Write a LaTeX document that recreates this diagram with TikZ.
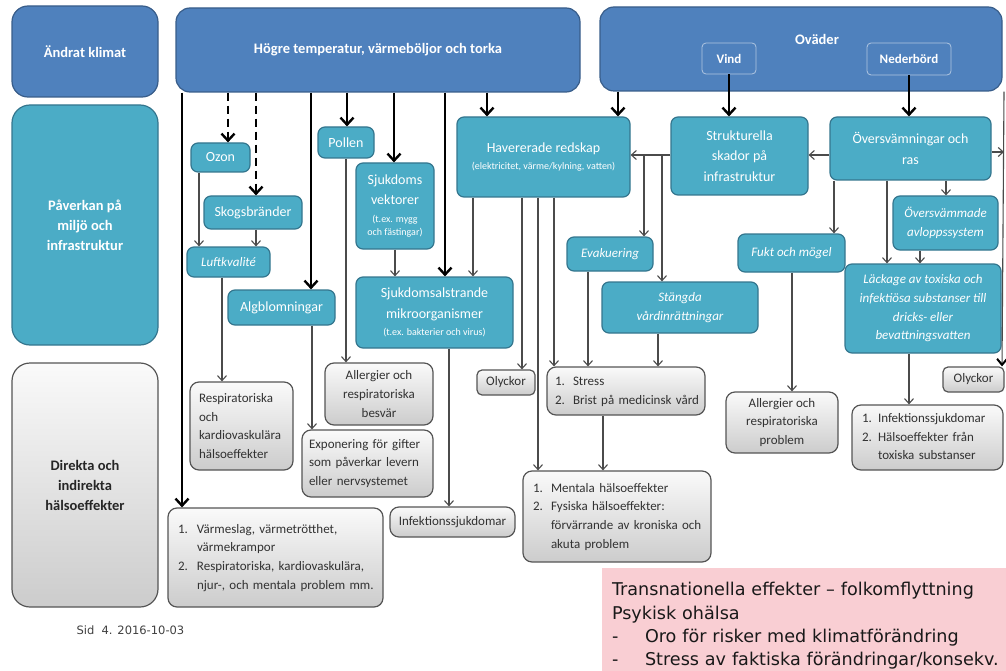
\documentclass[tikz,border=0pt]{standalone}
\usepackage{fontspec}
\setmainfont{Carlito}
\newfontfamily\dvfont{DejaVu Sans}
\usetikzlibrary{arrows.meta}
\definecolor{hdrblue}{RGB}{79,129,189}
\definecolor{hdrline}{RGB}{56,93,138}
\definecolor{tealf}{RGB}{75,172,198}
\definecolor{teall}{RGB}{52,118,142}
\definecolor{grayline}{RGB}{85,85,85}
\definecolor{graytext}{RGB}{50,50,50}
\definecolor{pinkf}{RGB}{249,206,211}
\definecolor{thinline}{RGB}{75,75,75}
\newcommand\smallf{\fontsize{10}{11}\selectfont}
\newcommand\mkbox[7]{\node[#2, minimum width={#5-#3}, minimum height={#6-#4}] (#1) at ({(#3+#5)/2},{(#4+#6)/2}) {#7};}
\tikzset{
 basebox/.style={rectangle, rounded corners=7pt, inner sep=2pt, align=center, line width=1.2pt},
 hdr/.style={basebox, fill=hdrblue, draw=hdrline, rounded corners=14pt, text=white, font=\fontsize{14.5}{20}\selectfont\bfseries},
 subhdr/.style={basebox, fill=hdrblue, draw=white!55!hdrblue, line width=0.8pt, rounded corners=4pt, text=white, font=\fontsize{13}{16}\selectfont\bfseries},
 tealbox/.style={basebox, fill=tealf, draw=teall, text=white, font=\fontsize{14}{20.5}\selectfont},
 tealit/.style={tealbox, font=\fontsize{13}{18.7}\selectfont\itshape},
 graybox/.style={basebox, draw=grayline, top color=gray!4, bottom color=gray!40, text=graytext, font=\fontsize{13}{18.7}\selectfont, rounded corners=9pt},
 thickarr/.style={line width=2.4pt, -{Straight Barb[length=7pt,width=13pt,line width=2.4pt]}},
 dasharr/.style={thickarr, dash pattern=on 8pt off 5pt},
 thinarr/.style={draw=thinline, line width=1.1pt, -{Straight Barb[length=5pt,width=9pt]}},
}
\begin{document}
\begin{tikzpicture}[x=1pt,y=-1pt]
\useasboundingbox (0,0) rectangle (1006,671);

% left column
\mkbox{klimat}{hdr, rounded corners=16pt}{12}{6}{158}{97}{Ändrat klimat}
\mkbox{paverkan}{tealbox, rounded corners=18pt, font=\fontsize{14.5}{20}\selectfont\bfseries}{12}{105}{158}{345}{Påverkan på\\miljö och\\infrastruktur}
\mkbox{direkta}{graybox, rounded corners=18pt, text=black!85, font=\fontsize{14.5}{20}\selectfont\bfseries}{12}{363}{158}{607}{Direkta och\\indirekta\\hälsoeffekter}

% top row
\mkbox{hogre}{hdr}{176}{8}{580}{92}{Högre temperatur, värmeböljor och torka}
\mkbox{ovader}{hdr}{600}{7}{1002}{91}{}
\node[text=white, font=\fontsize{14.5}{20}\selectfont\bfseries] (ovlbl) at (817,39) {Oväder};
\mkbox{vind}{subhdr}{702}{43}{756}{74}{Vind}
\mkbox{neder}{subhdr}{867}{43}{951}{75}{Nederbörd}

% teal boxes
\mkbox{ozon}{tealbox}{191}{143}{250}{172}{Ozon}
\mkbox{skog}{tealbox}{204}{196}{302}{229}{Skogsbränder}
\mkbox{luft}{tealit}{187}{247}{270}{277}{Luftkvalité}
\mkbox{alg}{tealbox}{228}{290}{335}{325}{Algblomningar}
\mkbox{pollen}{tealbox}{318}{127}{374}{158}{Pollen}
\mkbox{vekt}{tealbox}{356}{163}{434}{249}{Sjukdoms\\[-1pt]vektorer\\[-2pt]{\smallf (t.ex. mygg}\\[-8pt]{\smallf och fästingar)}}
\mkbox{mikro}{tealbox}{356}{277}{513}{348}{Sjukdomsalstrande\\mikroorganismer\\[-3pt]{\smallf (t.ex. bakterier och virus)}}
\mkbox{haver}{tealbox}{457}{117}{630}{197}{Havererade redskap\\[-4pt]{\smallf (elektricitet, värme/kylning, vatten)}}
\mkbox{strukt}{tealbox}{671}{117}{808}{195}{Strukturella\\skador på\\infrastruktur}
\mkbox{oversv}{tealbox}{830}{117}{991}{180}{Översvämningar och\\ras}
\mkbox{avlopp}{tealit}{893}{196}{998}{250}{Översvämmade\\avloppssystem}
\mkbox{fukt}{tealit}{738}{234}{845}{272}{Fukt och mögel}
\mkbox{evak}{tealit}{567}{237}{653}{271}{Evakuering}
\mkbox{stang}{tealit}{602}{282}{758}{333}{Stängda\\vårdinrättningar}
\mkbox{lack}{tealit}{845}{264}{1001}{353}{Läckage av toxiska och\\infektiösa substanser till\\dricks- eller\\bevattningsvatten}

% gray boxes
\mkbox{resp}{graybox, align=left, inner xsep=9pt, text width=85pt}{190}{382}{293}{470}{Respiratoriska\\och\\kardiovaskulära\\hälsoeffekter}
\mkbox{allerg}{graybox}{325}{363}{433}{425}{Allergier och\\respiratoriska\\besvär}
\mkbox{expo}{graybox, align=left, inner xsep=7pt, text width=117pt}{302}{430}{433}{497}{Exponering för gifter\\som påverkar levern\\eller nervsystemet}
\mkbox{varme}{graybox, align=left, inner xsep=10pt, text width=195pt}{168}{508}{383}{607}{\begin{tabular}{@{}p{19pt}@{}l@{}}1. & Värmeslag, värmetrötthet,\\ & värmekrampor\\ 2. & Respiratoriska, kardiovaskulära,\\ & njur-, och mentala problem mm.\end{tabular}}
\mkbox{infek}{graybox}{390}{507}{515}{537}{Infektionssjukdomar}
\mkbox{olyk}{graybox, rounded corners=5pt}{477}{370}{535}{395}{Olyckor}
\mkbox{stress}{graybox, align=left, inner xsep=8pt, text width=142pt}{547}{367}{705}{415}{\begin{tabular}{@{}p{18pt}@{}l@{}}1. & Stress\\ 2. & Brist på medicinsk vård\end{tabular}}
\mkbox{mental}{graybox, align=left, inner xsep=10pt, text width=168pt}{523}{471}{711}{562}{\begin{tabular}{@{}p{18pt}@{}l@{}}1. & Mentala hälsoeffekter\\ 2. & Fysiska hälsoeffekter:\\ & förvärrande av kroniska och\\ & akuta problem\end{tabular}}
\mkbox{allergb}{graybox}{726}{392}{838}{453}{Allergier och\\respiratoriska\\problem}
\mkbox{infekb}{graybox, align=left, inner xsep=10pt, text width=131pt}{852}{405}{1003}{470}{\begin{tabular}{@{}p{16pt}@{}l@{}}1. & Infektionssjukdomar\\ 2. & Hälsoeffekter från\\ & toxiska substanser\end{tabular}}
\mkbox{olykb}{graybox, rounded corners=5pt}{943}{367}{1004}{392}{Olyckor}

% pink box
\mkbox{pink}{rectangle, fill=pinkf, align=left, inner xsep=10pt, text width=400pt, text=black!90, font=\dvfont\fontsize{17.6}{23.3}\selectfont}{602}{568}{1022}{684}{Transnationella effekter – folkomflyttning\\Psykisk ohälsa\\\makebox[33pt][l]{-}Oro för risker med klimatförändring\\\makebox[33pt][l]{-}Stress av faktiska förändringar/konsekv.}

\node[anchor=base west, text=black!75, font=\dvfont\fontsize{11.5}{14}\selectfont] (sid) at (73,634) {Sid\ \ 4. 2016-10-03};

% thick connectors
\draw[thickarr] (hogre.south -| 182,0) -- (varme.north -| 182,0);
\draw[dasharr] (hogre.south -| 228,0) -- (ozon.north -| 228,0);
\draw[dasharr] (hogre.south -| 256,0) -- (skog.north -| 256,0);
\draw[thickarr] (hogre.south -| 311,0) -- (alg.north -| 311,0);
\draw[thickarr] (hogre.south -| 347,0) -- (pollen.north -| 347,0);
\draw[thickarr] (hogre.south -| 394,0) -- (vekt.north -| 394,0);
\draw[thickarr] (hogre.south -| 445,0) -- (mikro.north -| 445,0);
\draw[thickarr] (hogre.south -| 487,0) -- (haver.north -| 487,0);
\draw[thickarr] (ovader.south -| 618,0) -- (haver.north -| 618,0);
\draw[thickarr] (vind.south) -- (strukt.north -| vind.south);
\draw[thickarr] (neder.south) -- (oversv.north -| neder.south);

% thin connectors
\draw[thinarr] (ozon.south -| 199,0) -- (luft.north -| 199,0);
\draw[thinarr] (skog.south -| 256,0) -- (luft.north -| 256,0);
\draw[thinarr] (luft.south -| 222,0) -- (resp.north -| 222,0);
\draw[thinarr] (alg.south -| 312,0) -- (expo.north -| 312,0);
\draw[thinarr] (pollen.south -| 346,0) -- (allerg.north -| 346,0);
\draw[thinarr] (vekt.south -| 395,0) -- (mikro.north -| 395,0);
\draw[thinarr] (haver.south -| 473,0) -- (mikro.north -| 473,0);
\draw[thinarr] (mikro.south -| 449,0) -- (infek.north -| 449,0);
\draw[thinarr] (haver.south -| 522,0) -- (olyk.north -| 522,0);
\draw[thinarr] (haver.south -| 538,0) -- (mental.north -| 538,0);
\draw[thinarr] (haver.south -| 554,0) -- (stress.north -| 554,0);
\draw[thinarr] (strukt.west |- 0,155) -- (haver.east |- 0,155);
\coordinate (brA) at (644,155);
\coordinate (brB) at (662,155);
\draw[thinarr] (brA) -- (evak.north -| brA);
\draw[thinarr] (brB) -- (stang.north -| brB);
\draw[thinarr] (evak.south -| 588,0) -- (stress.north -| 588,0);
\draw[thinarr] (stang.south -| 658,0) -- (stress.north -| 658,0);
\draw[thinarr] (stress.south -| 603,0) -- (mental.north -| 603,0);
\draw[thinarr] (oversv.west |- 0,155) -- (strukt.east |- 0,155);
\draw[thinarr] (oversv.south -| 834,0) -- (fukt.north -| 834,0);
\draw[thinarr] (oversv.south -| 887,0) -- (lack.north -| 887,0);
\draw[thinarr] (oversv.south -| 946,0) -- (avlopp.north -| 946,0);
\draw[thinarr] (avlopp.south -| 920,0) -- (lack.north -| 920,0);
\draw[thinarr] (lack.south -| 909,0) -- (infekb.north -| 909,0);
\draw[thinarr] (fukt.south -| 792,0) -- (allergb.north -| 792,0);
\coordinate (rmid) at (1004,152);
\draw[thinarr] (oversv.east |- rmid) -- (rmid);
\draw[draw=thinline, line width=1.1pt, -{Straight Barb[length=6pt,width=10pt,line width=2pt,color=black]}] (ovader.south -| 1004,0) -- (olykb.north -| 1002,0);
\end{tikzpicture}
\end{document}
